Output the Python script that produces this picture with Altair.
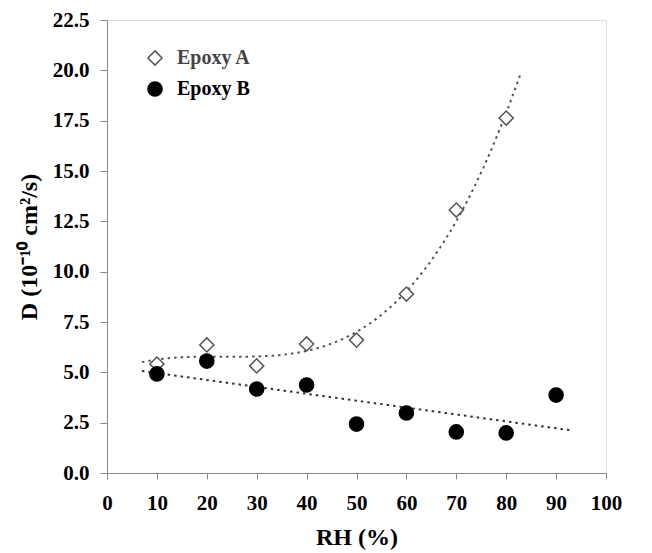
import altair as alt
import pandas as pd

rh = [10, 20, 30, 40, 50, 60, 70, 80]
epoxy_a = [5.41, 6.36, 5.32, 6.41, 6.60, 8.89, 13.06, 17.63]
rh_b = [10, 20, 30, 40, 50, 60, 70, 80, 90]
epoxy_b = [4.92, 5.56, 4.17, 4.37, 2.43, 2.98, 2.04, 1.99, 3.87]

series = ["Epoxy A", "Epoxy B"]
x_ticks = [0, 10, 20, 30, 40, 50, 60, 70, 80, 90, 100]
y_ticks = [0, 2.5, 5, 7.5, 10, 12.5, 15, 17.5, 20, 22.5]

df = pd.concat([
    pd.DataFrame({"RH": rh, "D": epoxy_a, "series": "Epoxy A"}),
    pd.DataFrame({"RH": rh_b, "D": epoxy_b, "series": "Epoxy B"}),
])

FONT = "Liberation Serif"

xs = alt.Scale(domain=[0, 100], nice=False)
ys = alt.Scale(domain=[0, 22.5], nice=False)

xaxis = alt.Axis(values=x_ticks, title="RH (%)", grid=False, labelFont=FONT, labelFontSize=21,
                 labelFontWeight="bold", labelColor="black", titleFont=FONT, titleFontSize=24,
                 titleFontWeight="bold", titleColor="black", domainColor="#888", tickColor="#888",
                 tickSize=6, labelPadding=13, titlePadding=12, labelFlush=False)
yaxis = alt.Axis(values=y_ticks, format=".1f", title="D (10⁻¹⁰ cm²/s)", grid=False, labelFont=FONT,
                 labelFontSize=21, labelFontWeight="bold", labelColor="black", titleFont=FONT,
                 titleFontSize=24, titleFontWeight="bold", titleColor="black", domainColor="#888",
                 tickColor="#888", tickSize=7, labelPadding=11, titlePadding=11)

leg = alt.Legend(title=None, orient="none", legendX=38, legendY=28, padding=0,
                 labelFont=FONT, labelFontSize=20, labelFontWeight="bold", symbolSize=200,
                 symbolStrokeWidth=1.5, labelOffset=12, rowPadding=9,
                 labelColor=alt.ExprRef("datum.label == 'Epoxy A' ? '#444' : '#000'"))

base = alt.Chart(df)

points = base.mark_point(size=200, filled=False, strokeWidth=1.5, opacity=1).encode(
    x=alt.X("RH:Q", scale=xs, axis=xaxis),
    y=alt.Y("D:Q", scale=ys, axis=yaxis),
    shape=alt.Shape("series:N", scale=alt.Scale(domain=series, range=["diamond", "circle"]), legend=leg),
    fill=alt.Fill("series:N", scale=alt.Scale(domain=series, range=["white", "black"]), legend=leg),
    stroke=alt.Stroke("series:N", scale=alt.Scale(domain=series, range=["#555", "black"]), legend=leg),
)

trend_a = base.transform_filter(alt.datum.series == "Epoxy A").transform_regression(
    "RH", "D", method="poly", order=3, extent=[7, 83]
).mark_line(strokeDash=[2.5, 4], strokeWidth=2, color="#555").encode(
    x=alt.X("RH:Q", scale=xs), y=alt.Y("D:Q", scale=ys))

trend_b = base.transform_filter(alt.datum.series == "Epoxy B").transform_regression(
    "RH", "D", method="linear", extent=[7, 93]
).mark_line(strokeDash=[2.5, 4], strokeWidth=2, color="#333").encode(
    x=alt.X("RH:Q", scale=xs), y=alt.Y("D:Q", scale=ys))

chart = alt.layer(trend_a, trend_b, points).properties(
    width=499, height=453, autosize=alt.AutoSizeParams(type="none"),
    padding={"left": 99, "top": 12, "right": 30, "bottom": 80},
).configure_view(stroke=None).configure(background="white")

chart.save("out.html", embed_options={"renderer": "svg", "actions": False})
